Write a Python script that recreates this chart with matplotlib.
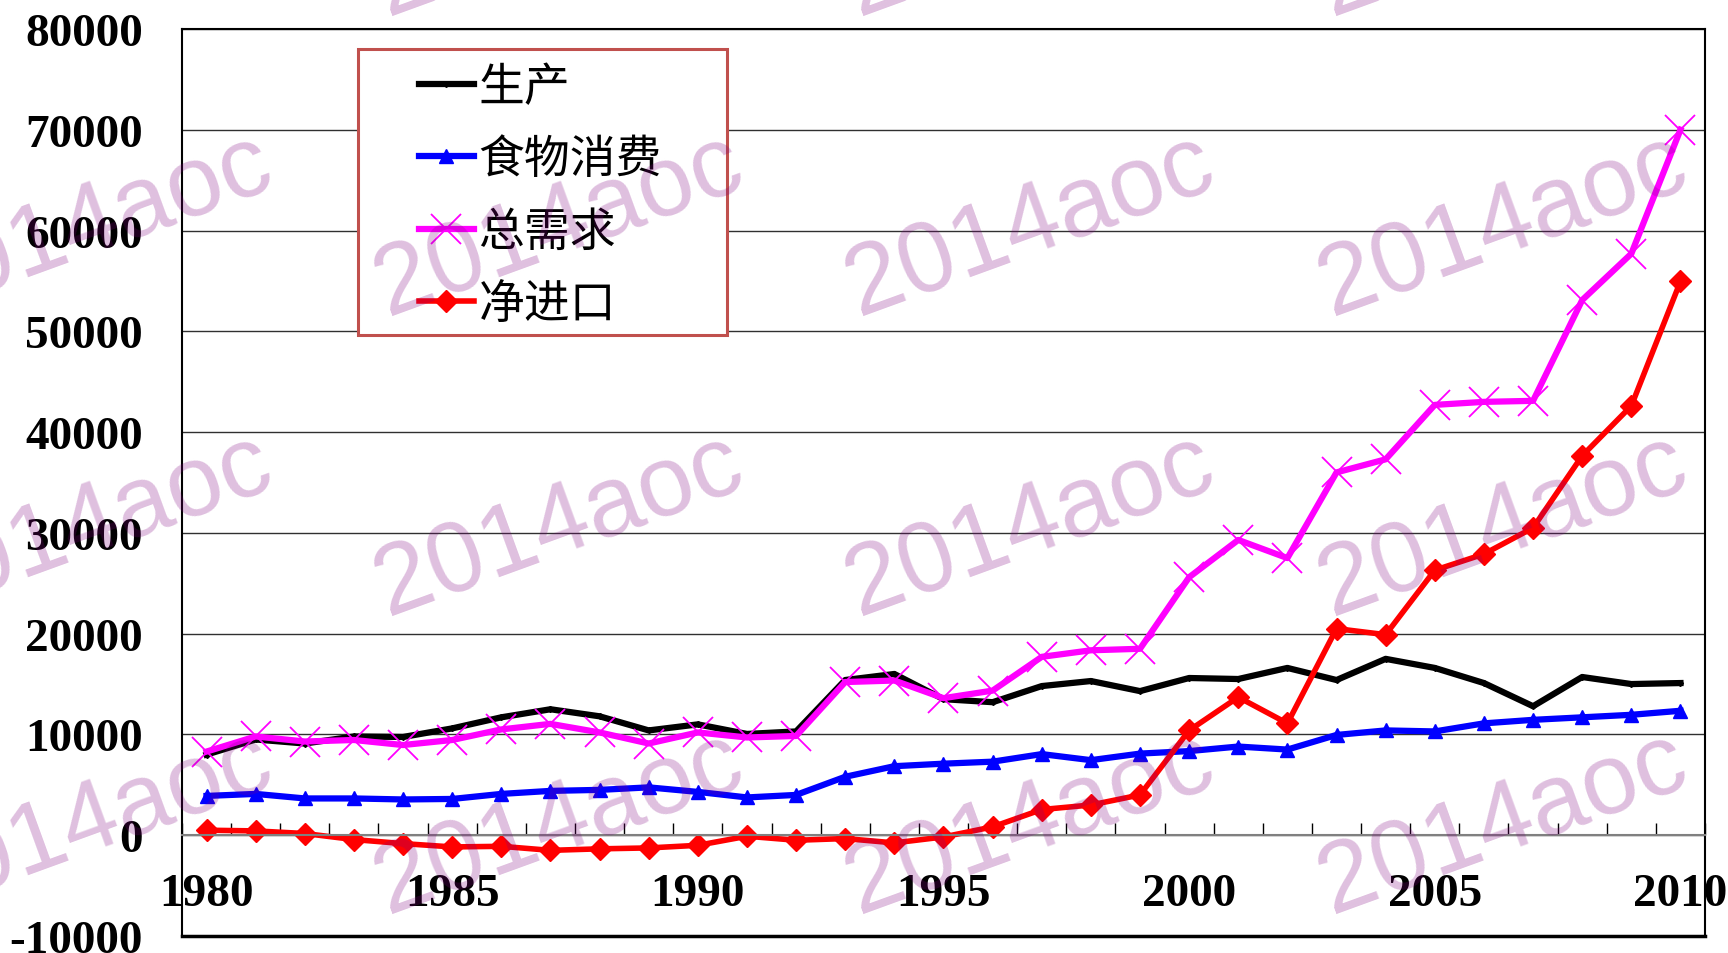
import matplotlib
matplotlib.use("Agg")
import matplotlib.pyplot as plt
from matplotlib.patches import Rectangle
import numpy as np

years = list(range(1980, 2011))
production = [8000, 9500, 9100, 9800, 9750, 10600, 11700, 12500, 11800, 10400,
              11000, 10050, 10300, 15400, 16000, 13500, 13200, 14800, 15300, 14300,
              15600, 15500, 16600, 15400, 17500, 16600, 15100, 12800, 15700, 15000, 15100]
food = [3900, 4100, 3650, 3650, 3550, 3600, 4100, 4400, 4500, 4750,
        4300, 3750, 4000, 5800, 6850, 7100, 7300, 8050, 7450, 8100,
        8350, 8800, 8500, 9950, 10400, 10300, 11100, 11450, 11700, 11950, 12350]
demand = [8300, 9800, 9300, 9450, 8950, 9450, 10500, 11050, 10200, 9100,
          10200, 9700, 9850, 15200, 15350, 13600, 14350, 17700, 18350, 18500,
          25600, 29300, 27500, 36000, 37300, 42700, 43000, 43100, 53100, 57700, 70000]
net_import = [500, 430, 170, -430, -830, -1160, -1100, -1500, -1350, -1260,
              -1000, -100, -500, -330, -760, -170, 830, 2550, 3000, 4000,
              10400, 13700, 11100, 20500, 19900, 26300, 27900, 30500, 37650, 42600, 54950]
labels = ["生产", "食物消费", "总需求", "净进口"]

plt.rcParams['font.family'] = ['Liberation Serif']
plt.rcParams['font.weight'] = 'bold'
plt.rcParams['axes.unicode_minus'] = False

fig = plt.figure(figsize=(17.28, 9.54), dpi=100)
ax = fig.add_axes([0.1053, 0.0178, 0.8814, 0.9508])

ax.plot(years, production, color='black', lw=4.5, marker='D', ms=3, label=labels[0])
ax.plot(years, food, color='#0000FF', lw=4.5, marker='^', ms=10, label=labels[1])
ax.plot(years, demand, color='#FF00FF', lw=4.5, marker='x', ms=22, mew=1.3, label=labels[2])
ax.plot(years, net_import, color='#FF0000', lw=4, marker='D', ms=11, label=labels[3])

ax.set_xlim(1979.5, 2010.5)
ax.set_ylim(-10000, 80000)
ax.set_yticks(range(-10000, 80001, 10000))
ax.set_xticks(range(1980, 2011, 5))
ax.set_xticks(np.arange(1979.5, 2011, 1), minor=True)
ax.yaxis.grid(True, color='#303030', lw=1)
ax.set_axisbelow(True)

# x axis crosses at 0, plot-area border drawn separately
ax.spines['bottom'].set_position(('data', 0))
ax.spines['bottom'].set_color('#808080')
ax.spines['bottom'].set_linewidth(1.5)
for s in ['top', 'left', 'right']:
    ax.spines[s].set_linewidth(1.5)
ax.plot([0, 1], [0, 0], transform=ax.transAxes, color='black', lw=2.5, clip_on=False)

ax.tick_params(axis='x', which='major', length=0, pad=27, labelsize=34)
ax.tick_params(axis='x', which='minor', direction='in', length=9, width=1, color='black')
ax.tick_params(axis='y', length=0, pad=28, labelsize=34)

ax.add_patch(Rectangle((0.1156, 0.6626), 0.2422, 0.3154, transform=ax.transAxes,
                       facecolor='white', edgecolor='#C0504D', lw=2.2, zorder=5))
leg = ax.legend(loc='upper left', bbox_to_anchor=(0.1556, 0.963), frameon=False,
                prop={'family': ['Noto Sans CJK SC'], 'size': 33, 'weight': 'medium'},
                handlelength=1.2, handletextpad=0.1, labelspacing=0.52,
                borderpad=0, borderaxespad=0)
leg.set_zorder(6)

# watermark
for yc in [1.078, 0.763, 0.449, 0.136]:
    for xc in [0.051, 0.3235, 0.596, 0.870]:
        fig.text(xc, yc, '2014aoc', fontsize=72, family='Liberation Sans',
                 fontweight='normal', color='#800080', alpha=0.25, rotation=20,
                 ha='center', va='center', rotation_mode='anchor', zorder=10)

fig.savefig('out.png', dpi=100)
